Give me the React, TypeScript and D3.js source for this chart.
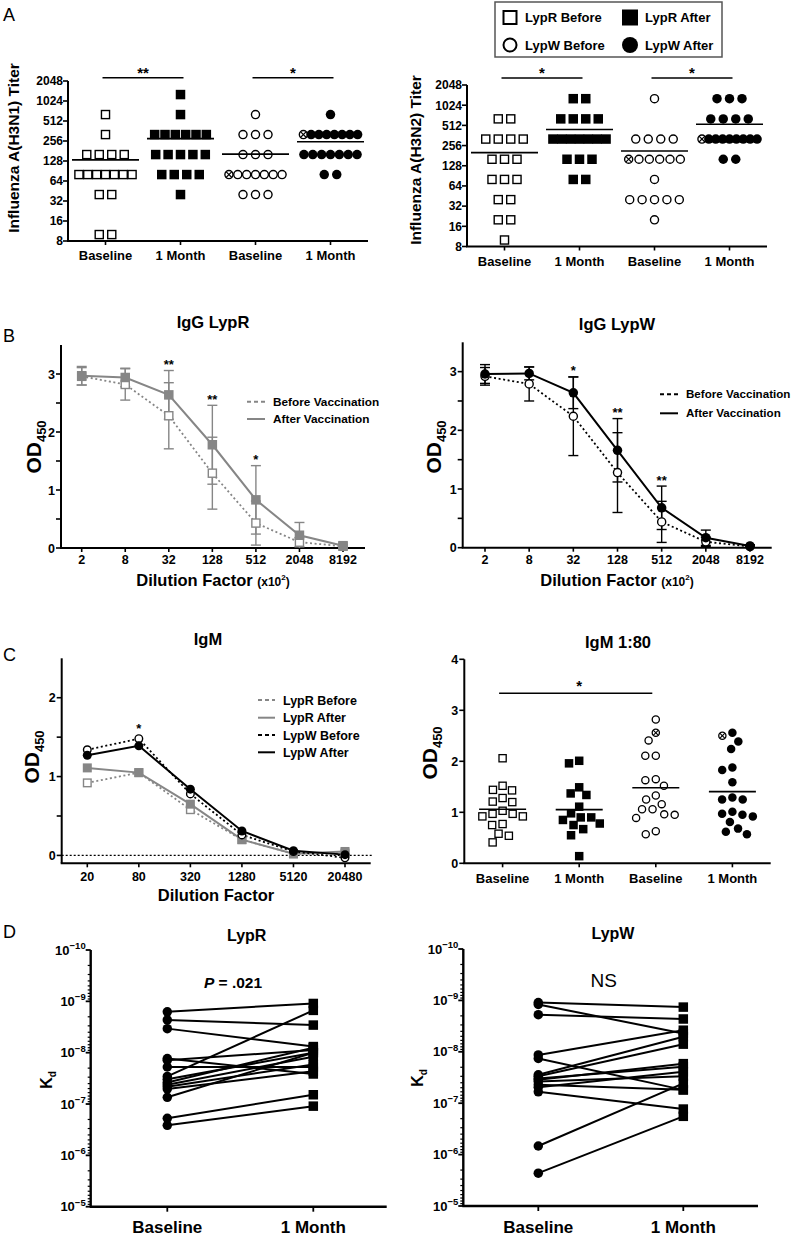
import React from 'react';
import * as d3 from 'd3';

const FONT = '"Liberation Sans", Arial, Helvetica, sans-serif';
const GRAY = '#868686';

// ---------------- Panel A data ----------------
const titerGroups = ['Baseline', '1 Month', 'Baseline', '1 Month'];
const titerTicks = [8, 16, 32, 64, 128, 256, 512, 1024, 2048];
const legendALabels = ['LypR Before', 'LypR After', 'LypW Before', 'LypW After'];
const h3n1LypRBefore = [640, 320, 160, 160, 160, 160, 80, 80, 80, 80, 80, 80, 80, 40, 40, 10, 10];
const h3n1LypRAfter = [1280, 640, 320, 320, 320, 320, 320, 320, 160, 160, 160, 160, 160, 80, 80, 80, 80, 40];
const h3n1LypWBefore = [640, 320, 320, 320, 160, 160, 160, 80, 80, 80, 80, 80, 80, 80, 40, 40, 40];
const h3n1LypWAfter = [640, 320, 320, 320, 320, 320, 320, 320, 320, 160, 160, 160, 160, 160, 160, 160, 80, 80];
const h3n1Crossed = [null, null, 80, 320];
const h3n1Sig = ['**', '*'];
const h3n2LypRBefore = [640, 640, 320, 320, 320, 320, 160, 160, 160, 80, 80, 80, 40, 40, 20, 20, 10];
const h3n2LypRAfter = [1280, 1280, 640, 640, 640, 640, 320, 320, 320, 320, 320, 320, 320, 160, 160, 160, 80, 80];
const h3n2LypWBefore = [1280, 320, 320, 320, 320, 160, 160, 160, 160, 160, 160, 80, 40, 40, 40, 40, 40, 20];
const h3n2LypWAfter = [1280, 1280, 1280, 640, 640, 640, 640, 320, 320, 320, 320, 320, 320, 320, 320, 320, 160, 160];
const h3n2Crossed = [null, null, 160, 320];
const h3n2Sig = ['*', '*'];

// ---------------- Panel B data ----------------
const igGDilutions = ['2', '8', '32', '128', '512', '2048', '8192'];
const lypRIgGBefore = [2.96, 2.82, 2.28, 1.29, 0.43, 0.1, 0.03];
const lypRIgGBeforeErr = [0.15, 0.27, 0.57, 0.62, 0.38, 0.08, 0.02];
const lypRIgGAfter = [2.97, 2.94, 2.64, 1.78, 0.83, 0.22, 0.04];
const lypRIgGAfterErr = [0.16, 0.16, 0.42, 0.68, 0.59, 0.22, 0.02];
const lypRIgGStars = ['', '', '**', '**', '*', '', ''];
const lypWIgGBefore = [2.92, 2.79, 2.24, 1.28, 0.44, 0.1, 0.02];
const lypWIgGBeforeErr = [0.15, 0.29, 0.67, 0.68, 0.35, 0.08, 0.02];
const lypWIgGAfter = [2.96, 2.97, 2.64, 1.66, 0.68, 0.17, 0.03];
const lypWIgGAfterErr = [0.16, 0.11, 0.27, 0.54, 0.37, 0.13, 0.02];
const lypWIgGStars = ['', '', '*', '**', '**', '', ''];

// ---------------- Panel C data ----------------
const igMDilutions = ['20', '80', '320', '1280', '5120', '20480'];
const igmLypRBefore = [0.92, 1.05, 0.58, 0.2, 0.02, 0.03];
const igmLypRAfter = [1.11, 1.05, 0.65, 0.2, 0.02, 0.05];
const igmLypWBefore = [1.34, 1.48, 0.78, 0.26, 0.05, -0.03];
const igmLypWAfter = [1.27, 1.39, 0.84, 0.31, 0.06, 0.01];
const igmStars = ['', '*', '', '', '', ''];
const igmLegend = ['LypR Before', 'LypR After', 'LypW Before', 'LypW After'];

const igm80LypRBaseline = [2.06, 1.52, 1.44, 1.43, 1.28, 1.21, 1.2, 1.03, 0.97, 0.97, 0.92, 0.92, 0.77, 0.75, 0.58, 0.54, 0.41];
const igm80LypRMonth = [2.01, 1.96, 1.49, 1.37, 1.34, 1.11, 0.98, 0.9, 0.9, 0.85, 0.78, 0.75, 0.67, 0.55, 0.14];
const igm80LypWBaseline = [2.82, 2.56, 2.41, 2.11, 2.11, 1.65, 1.63, 1.52, 1.33, 1.25, 1.16, 1.06, 1.06, 0.96, 0.95, 0.89, 0.63, 0.57];
const igm80LypWMonth = [2.56, 2.5, 2.39, 2.24, 1.88, 1.83, 1.59, 1.29, 1.25, 1.25, 1.01, 0.97, 0.95, 0.92, 0.81, 0.68, 0.62, 0.57];
const igm80Crossed = [null, null, 2.56, 2.5];
const igm80Ticks = [0, 1, 2, 3, 4];

// ---------------- Panel D data ----------------
const kdGroups = ['Baseline', '1 Month'];
const kdExponents = [-10, -9, -8, -7, -6, -5];
const lypRKdBaseline = [1.6e-9, 2.3e-9, 3.4e-9, 1.3e-8, 1.4e-8, 1.9e-8, 2.9e-8, 3.3e-8, 3.8e-8, 4.2e-8, 4.6e-8, 5.1e-8, 7.4e-8, 1.9e-7, 2.6e-7];
const lypRKdMonth = [1.1e-9, 2.9e-9, 7.6e-9, 2.6e-8, 8.9e-9, 1.9e-8, 1.5e-9, 1.0e-8, 8.0e-9, 1.2e-8, 1.7e-8, 2.3e-8, 1.0e-8, 6.6e-8, 1.1e-7];
const lypWKdBaseline = [1.1e-9, 1.2e-9, 1.9e-9, 1.15e-8, 1.35e-8, 2.8e-8, 3.0e-8, 3.3e-8, 3.5e-8, 3.8e-8, 4.4e-8, 4.9e-8, 6.0e-8, 6.8e-7, 2.3e-6];
const lypWKdMonth = [1.35e-9, 4.4e-9, 2.3e-9, 3.8e-9, 5.5e-8, 5.1e-9, 7.1e-9, 1.95e-8, 1.7e-8, 3.0e-8, 5.5e-8, 2.45e-8, 1.3e-7, 4.1e-8, 1.8e-7];

type Shape = 'square' | 'circle';

function Mark({ shape, filled, crossed, x, y, s, color = '#000', sw = 1.4 }:
  { shape: Shape; filled: boolean; crossed?: boolean; x: number; y: number; s: number; color?: string; sw?: number }) {
  if (crossed) {
    const r = s / 2 - sw / 2;
    const k = r * 0.72;
    return (
      <g>
        <circle cx={x} cy={y} r={r} fill="#fff" stroke={color} strokeWidth={sw} />
        <line x1={x - k} y1={y - k} x2={x + k} y2={y + k} stroke={color} strokeWidth={sw * 0.85} />
        <line x1={x - k} y1={y + k} x2={x + k} y2={y - k} stroke={color} strokeWidth={sw * 0.85} />
      </g>
    );
  }
  if (shape === 'square') {
    return filled
      ? <rect x={x - s / 2} y={y - s / 2} width={s} height={s} fill={color} />
      : <rect x={x - s / 2 + sw / 2} y={y - s / 2 + sw / 2} width={s - sw} height={s - sw} fill="#fff" stroke={color} strokeWidth={sw} />;
  }
  return filled
    ? <circle cx={x} cy={y} r={s / 2} fill={color} />
    : <circle cx={x} cy={y} r={s / 2 - sw / 2} fill="#fff" stroke={color} strokeWidth={sw} />;
}

function ODLabel({ x, y, size = 21 }: { x: number; y: number; size?: number }) {
  return (
    <text transform={`translate(${x},${y}) rotate(-90)`} textAnchor="middle" fontFamily={FONT} fontWeight="bold" fontSize={size}>
      OD<tspan fontSize={size * 0.62} dy={5}>450</tspan>
    </text>
  );
}

const aShapes: Shape[] = ['square', 'square', 'circle', 'circle'];
const aFilled = [false, true, false, true];

function titerLayout(values: number[], crossedVal: number | null) {
  const out: { v: number; dx: number; crossed: boolean }[] = [];
  const groups = d3.groups(values, (v) => v);
  for (const [v, items] of groups) {
    const n = items.length;
    const sp = Math.min(12.5, 62 / n);
    items.forEach((_, j) => {
      out.push({ v, dx: (j - (n - 1) / 2) * sp, crossed: crossedVal === v && j === 0 });
    });
  }
  return out;
}

function TiterPanel({ cols, crossed, sig, x0, x1, yTop, yBot, yLabel, yLabelX, yLabelY, xLabelY, sigY }:
  { cols: number[][]; crossed: (number | null)[]; sig: string[]; x0: number; x1: number; yTop: number; yBot: number;
    yLabel: string; yLabelX: number; yLabelY: number; xLabelY: number; sigY: number }) {
  const y = d3.scaleLog().base(2).domain([8, 2048]).range([yBot, yTop]);
  const x = d3.scaleBand<number>().domain(d3.range(4)).range([x0, x1]);
  const cx = (i: number) => (x(i) as number) + x.bandwidth() / 2;
  const pairs = [[0, 1], [2, 3]];
  return (
    <g fontFamily={FONT} fontWeight="bold">
      <line x1={x0} x2={x0} y1={yBot} y2={yTop} stroke="#000" strokeWidth={2} />
      <line x1={x0 - 1} x2={x1} y1={yBot} y2={yBot} stroke="#000" strokeWidth={2} />
      {titerTicks.map((t) => (
        <g key={t}>
          <line x1={x0 - 5} x2={x0} y1={y(t)} y2={y(t)} stroke="#000" strokeWidth={1.6} />
          <text x={x0 - 5} y={y(t)} dy="0.36em" textAnchor="end" fontSize={12}>{t}</text>
        </g>
      ))}
      {titerGroups.map((g, i) => (
        <g key={i}>
          <line x1={cx(i)} x2={cx(i)} y1={yBot} y2={yBot + 4} stroke="#000" strokeWidth={1.6} />
          <text x={cx(i)} y={xLabelY} textAnchor="middle" fontSize={13}>{g}</text>
        </g>
      ))}
      <text transform={`translate(${yLabelX},${yLabelY}) rotate(-90)`} textAnchor="middle" fontSize={15.5}>{yLabel}</text>
      {cols.map((vals, i) => {
        const lay = titerLayout(vals, crossed[i]);
        const m = d3.mean(vals) as number;
        return (
          <g key={i}>
            {lay.map((p, j) => (
              <Mark key={j} shape={aShapes[i]} filled={aFilled[i]} crossed={p.crossed} x={cx(i) + p.dx} y={y(p.v)} s={9.5} />
            ))}
            <line x1={cx(i) - 33.5} x2={cx(i) + 33.5} y1={y(m)} y2={y(m)} stroke="#000" strokeWidth={1.6} />
          </g>
        );
      })}
      {pairs.map(([a, b], k) => (
        <g key={k}>
          <line x1={cx(a) - 3} x2={cx(b) + 3} y1={sigY} y2={sigY} stroke="#000" strokeWidth={1.6} />
          <text x={(cx(a) + cx(b)) / 2} y={sigY} textAnchor="middle" fontSize={15}>{sig[k]}</text>
        </g>
      ))}
    </g>
  );
}

function LegendA() {
  const items = [
    { x: 510, tx: 525, y: 17.5, shape: 'square' as Shape, filled: false },
    { x: 630, tx: 645, y: 17.5, shape: 'square' as Shape, filled: true },
    { x: 510, tx: 525, y: 45, shape: 'circle' as Shape, filled: false },
    { x: 630, tx: 645, y: 45, shape: 'circle' as Shape, filled: true },
  ];
  return (
    <g fontFamily={FONT} fontWeight="bold">
      <rect x={495} y={2} width={227} height={55} fill="#fff" stroke="#555" strokeWidth={1.5} />
      {items.map((it, i) => (
        <g key={i}>
          <Mark shape={it.shape} filled={it.filled} x={it.x} y={it.y} s={it.filled ? 16 : 15} sw={2} />
          <text x={it.tx} y={it.y} dy="0.36em" fontSize={13}>{legendALabels[i]}</text>
        </g>
      ))}
    </g>
  );
}

interface Series { values: number[]; err?: number[]; shape: Shape; filled: boolean; color: string; dashed: boolean; label?: string }

function LinePanel(p: {
  dils: string[]; series: Series[]; stars: string[]; axX: number; axRight: number; xFirst: number; xLast: number;
  yMin: number; yMax: number; yBottom: number; yTopPx: number; yTicks: number[]; zeroLine?: boolean;
  title: string; titleX: number; titleY: number; odX: number; odY: number; tickLabelY: number;
  xTitle: React.ReactNode; xTitleX: number; xTitleY: number;
  legendX1: number; legendX2: number; legendTextX: number; legendYs: number[]; legendSize: number; markSize: number;
}) {
  const x = d3.scalePoint<string>().domain(p.dils).range([p.xFirst, p.xLast]);
  const y = d3.scaleLinear().domain([p.yMin, p.yMax]).range([p.yBottom, p.yTopPx]);
  const line = d3.line<number>().x((_, i) => x(p.dils[i]) as number).y((d) => y(d));
  const legendSeries = p.series.filter((s) => s.label);
  return (
    <g fontFamily={FONT} fontWeight="bold">
      <line x1={p.axX} x2={p.axX} y1={p.yBottom} y2={p.yTopPx} stroke="#000" strokeWidth={2} />
      <line x1={p.axX - 1} x2={p.axRight} y1={p.yBottom} y2={p.yBottom} stroke="#000" strokeWidth={2} />
      {p.yTicks.map((t) => (
        <g key={t}>
          <line x1={p.axX - 5} x2={p.axX} y1={y(t)} y2={y(t)} stroke="#000" strokeWidth={1.6} />
          {Number.isInteger(t) && <text x={p.axX - 6} y={y(t)} dy="0.36em" textAnchor="end" fontSize={12.5}>{t}</text>}
        </g>
      ))}
      {p.zeroLine && (
        <line x1={p.axX} x2={p.axRight + 1} y1={y(0)} y2={y(0)} stroke="#000" strokeWidth={1.3} strokeDasharray="2,2" />
      )}
      {p.dils.map((d) => (
        <g key={d}>
          <line x1={x(d)} x2={x(d)} y1={p.yBottom} y2={p.yBottom + 4} stroke="#000" strokeWidth={1.6} />
          <text x={x(d)} y={p.tickLabelY} textAnchor="middle" fontSize={12.5}>{d}</text>
        </g>
      ))}
      <text x={p.titleX} y={p.titleY} textAnchor="middle" fontSize={16.5}>{p.title}</text>
      <ODLabel x={p.odX} y={p.odY} />
      <text x={p.xTitleX} y={p.xTitleY} textAnchor="middle" fontSize={16.5}>{p.xTitle}</text>
      {p.series.map((s, k) => (
        <g key={k}>
          <path d={line(s.values) as string} fill="none" stroke={s.color} strokeWidth={s.dashed ? 1.8 : 2}
            strokeDasharray={s.dashed ? '2,2.6' : undefined} />
          {s.err && s.values.map((v, i) => {
            const xi = x(p.dils[i]) as number;
            const e = s.err![i];
            const lo = Math.max(v - e, p.yMin);
            return (
              <g key={i} stroke={s.color} strokeWidth={1.4}>
                <line x1={xi} x2={xi} y1={y(lo)} y2={y(v + e)} />
                <line x1={xi - 5} x2={xi + 5} y1={y(v + e)} y2={y(v + e)} />
                {v - e > p.yMin && <line x1={xi - 5} x2={xi + 5} y1={y(v - e)} y2={y(v - e)} />}
              </g>
            );
          })}
        </g>
      ))}
      {p.series.map((s, k) => (
        <g key={k}>
          {s.values.map((v, i) => (
            <Mark key={i} shape={s.shape} filled={s.filled} x={x(p.dils[i]) as number} y={y(v)} s={p.markSize} color={s.color} sw={1.4} />
          ))}
        </g>
      ))}
      {p.stars.map((st, i) => {
        if (!st) return null;
        const top = d3.min(p.series, (s) => Math.min(y(s.values[i] + (s.err ? s.err[i] : 0)), y(s.values[i]) - p.markSize / 2)) as number;
        return <text key={i} x={x(p.dils[i])} y={top - 1.5} textAnchor="middle" fontSize={13}>{st}</text>;
      })}
      {legendSeries.map((s, i) => (
        <g key={i}>
          <line x1={p.legendX1} x2={p.legendX2} y1={p.legendYs[i]} y2={p.legendYs[i]} stroke={s.color} strokeWidth={2}
            strokeDasharray={s.dashed ? '4,3' : undefined} />
          <text x={p.legendTextX} y={p.legendYs[i]} dy="0.36em" fontSize={p.legendSize}>{s.label}</text>
        </g>
      ))}
    </g>
  );
}

function beeswarm(ys: number[], d: number): number[] {
  const order = d3.range(ys.length).sort((a, b) => ys[a] - ys[b]);
  const placed: { x: number; y: number }[] = [];
  const out = new Array(ys.length).fill(0);
  for (const i of order) {
    const yi = ys[i];
    const iv: [number, number][] = [];
    for (const q of placed) {
      const dy = Math.abs(q.y - yi);
      if (dy < d) {
        const w = Math.sqrt(d * d - dy * dy);
        iv.push([q.x - w, q.x + w]);
      }
    }
    const cands = [0];
    iv.forEach(([a, b]) => cands.push(a, b));
    cands.sort((a, b) => Math.abs(a) - Math.abs(b));
    let best = 0;
    for (const c of cands) {
      if (iv.every(([a, b]) => c <= a + 1e-6 || c >= b - 1e-6)) { best = c; break; }
    }
    out[i] = best;
    placed.push({ x: best, y: yi });
  }
  return out;
}

function IgM80Panel() {
  const cols = [igm80LypRBaseline, igm80LypRMonth, igm80LypWBaseline, igm80LypWMonth];
  const x0 = 464.3, x1 = 770.7, yB = 863.3, yT = 659.3;
  const y = d3.scaleLinear().domain([0, 4]).range([yB, yT]);
  const x = d3.scaleBand<number>().domain(d3.range(4)).range([x0, x1]);
  const cx = (i: number) => (x(i) as number) + x.bandwidth() / 2;
  const sigY = 693.3;
  return (
    <g fontFamily={FONT} fontWeight="bold">
      <line x1={x0} x2={x0} y1={yB} y2={yT} stroke="#000" strokeWidth={2} />
      <line x1={x0 - 1} x2={x1} y1={yB} y2={yB} stroke="#000" strokeWidth={2} />
      {igm80Ticks.map((t) => (
        <g key={t}>
          <line x1={x0 - 5} x2={x0} y1={y(t)} y2={y(t)} stroke="#000" strokeWidth={1.6} />
          <text x={x0 - 6} y={y(t)} dy="0.36em" textAnchor="end" fontSize={12.5}>{t}</text>
        </g>
      ))}
      {titerGroups.map((g, i) => (
        <g key={i}>
          <line x1={cx(i)} x2={cx(i)} y1={yB} y2={yB + 4} stroke="#000" strokeWidth={1.6} />
          <text x={cx(i)} y={883} textAnchor="middle" fontSize={13}>{g}</text>
        </g>
      ))}
      <text x={618} y={648} textAnchor="middle" fontSize={16.5}>IgM 1:80</text>
      <ODLabel x={437} y={753} />
      {cols.map((vals, i) => {
        const ys = vals.map((v) => y(v));
        const dx = beeswarm(ys, 10.5);
        const m = d3.mean(vals) as number;
        let used = false;
        return (
          <g key={i}>
            {vals.map((v, j) => {
              const c = !used && igm80Crossed[i] === v;
              if (c) used = true;
              return <Mark key={j} shape={aShapes[i]} filled={aFilled[i] && !c} crossed={c} x={cx(i) + dx[j]} y={ys[j]} s={8.5} sw={1.3} />;
            })}
            <line x1={cx(i) - 23.5} x2={cx(i) + 23.5} y1={y(m)} y2={y(m)} stroke="#000" strokeWidth={1.6} />
          </g>
        );
      })}
      <line x1={cx(0) - 3.5} x2={cx(2) - 3.5} y1={sigY} y2={sigY} stroke="#000" strokeWidth={1.6} />
      <text x={(cx(0) + cx(2)) / 2} y={sigY - 2} textAnchor="middle" fontSize={15}>*</text>
    </g>
  );
}

function KdPanel({ base, month, x0, x1, yTop, yBot, xA, xB, title, titleX, titleY, kdX, kdY, note }:
  { base: number[]; month: number[]; x0: number; x1: number; yTop: number; yBot: number; xA: number; xB: number;
    title: string; titleX: number; titleY: number; kdX: number; kdY: number; note: React.ReactNode }) {
  const y = d3.scaleLog().domain([1e-10, 1e-5]).range([yTop, yBot]);
  const x = d3.scalePoint<string>().domain(kdGroups).range([xA, xB]);
  const minor: number[] = [];
  for (let e = -10; e < -5; e++) for (let m = 2; m <= 9; m++) minor.push(m * Math.pow(10, e));
  return (
    <g fontFamily={FONT} fontWeight="bold">
      <line x1={x0} x2={x0} y1={yBot} y2={yTop} stroke="#000" strokeWidth={2.4} />
      <line x1={x0 - 1} x2={x1} y1={yBot} y2={yBot} stroke="#000" strokeWidth={2.4} />
      {minor.map((t, i) => (
        <line key={i} x1={x0 - 3} x2={x0} y1={y(t)} y2={y(t)} stroke="#000" strokeWidth={1.2} />
      ))}
      {kdExponents.map((e) => (
        <g key={e}>
          <line x1={x0 - 5} x2={x0} y1={y(Math.pow(10, e))} y2={y(Math.pow(10, e))} stroke="#000" strokeWidth={1.8} />
          <text x={x0 - 5} y={y(Math.pow(10, e)) + 4.5} textAnchor="end" fontSize={13}>
            10<tspan fontSize={9.5} dy={-5.5}>{'\u2212' + Math.abs(e)}</tspan>
          </text>
        </g>
      ))}
      {kdGroups.map((g) => (
        <g key={g}>
          <line x1={x(g)} x2={x(g)} y1={yBot} y2={yBot + 5} stroke="#000" strokeWidth={1.8} />
          <text x={x(g)} y={1233} textAnchor="middle" fontSize={17}>{g}</text>
        </g>
      ))}
      <text x={titleX} y={titleY} textAnchor="middle" fontSize={16}>{title}</text>
      <text transform={`translate(${kdX},${kdY}) rotate(-90)`} textAnchor="middle" fontSize={16}>
        K<tspan fontSize={10} dy={4}>d</tspan>
      </text>
      {note}
      {base.map((b, i) => (
        <line key={i} x1={x('Baseline')} x2={x('1 Month')} y1={y(b)} y2={y(month[i])} stroke="#000" strokeWidth={2} />
      ))}
      {base.map((b, i) => (
        <Mark key={'b' + i} shape="circle" filled x={x('Baseline') as number} y={y(b)} s={9.5} />
      ))}
      {month.map((m, i) => (
        <Mark key={'m' + i} shape="square" filled x={x('1 Month') as number} y={y(m)} s={9.5} />
      ))}
    </g>
  );
}

function PanelLetter({ x, y, t }: { x: number; y: number; t: string }) {
  return <text x={x} y={y} fontFamily={FONT} fontSize={18} fontWeight="normal">{t}</text>;
}

export default function App() {
  const dilTitle = (
    <>
      Dilution Factor <tspan fontSize={12}>(x10</tspan><tspan fontSize={8} dy={-6}>2</tspan><tspan fontSize={12} dy={6}>)</tspan>
    </>
  );
  return (
    <svg width={796} height={1236} style={{ position: 'absolute', left: 0, top: 0, background: '#fff' }}>
      <rect width={796} height={1236} fill="#fff" />
      <PanelLetter x={3} y={21} t="A" />
      <PanelLetter x={3} y={342} t="B" />
      <PanelLetter x={3} y={661} t="C" />
      <PanelLetter x={3} y={938} t="D" />

      <TiterPanel cols={[h3n1LypRBefore, h3n1LypRAfter, h3n1LypWBefore, h3n1LypWAfter]} crossed={h3n1Crossed} sig={h3n1Sig}
        x0={68} x1={368} yTop={81} yBot={241} yLabel="Influenza A(H3N1) Titer" yLabelX={19} yLabelY={148}
        xLabelY={259.5} sigY={77.7} />
      <TiterPanel cols={[h3n2LypRBefore, h3n2LypRAfter, h3n2LypWBefore, h3n2LypWAfter]} crossed={h3n2Crossed} sig={h3n2Sig}
        x0={467} x1={767} yTop={85} yBot={246.5} yLabel="Influenza A(H3N2) Titer" yLabelX={421} yLabelY={160}
        xLabelY={265.5} sigY={78} />
      <LegendA />

      <LinePanel dils={igGDilutions}
        series={[
          { values: lypRIgGBefore, err: lypRIgGBeforeErr, shape: 'square', filled: false, color: GRAY, dashed: true, label: 'Before Vaccination' },
          { values: lypRIgGAfter, err: lypRIgGAfterErr, shape: 'square', filled: true, color: GRAY, dashed: false, label: 'After Vaccination' },
        ]}
        stars={lypRIgGStars} axX={61} axRight={365} xFirst={81.7} xLast={343} yMin={0} yMax={3.5} yBottom={548} yTopPx={345}
        yTicks={[0, 0.5, 1, 1.5, 2, 2.5, 3]} title="IgG LypR" titleX={213} titleY={328} odX={41} odY={447}
        tickLabelY={564} xTitle={dilTitle} xTitleX={213} xTitleY={586}
        legendX1={247} legendX2={265} legendTextX={273} legendYs={[401.7, 419]} legendSize={11.8} markSize={9.5} />
      <LinePanel dils={igGDilutions}
        series={[
          { values: lypWIgGBefore, err: lypWIgGBeforeErr, shape: 'circle', filled: false, color: '#000', dashed: true, label: 'Before Vaccination' },
          { values: lypWIgGAfter, err: lypWIgGAfterErr, shape: 'circle', filled: true, color: '#000', dashed: false, label: 'After Vaccination' },
        ]}
        stars={lypWIgGStars} axX={462.7} axRight={771.7} xFirst={485} xLast={750} yMin={0} yMax={3.5} yBottom={547.7} yTopPx={342.3}
        yTicks={[0, 0.5, 1, 1.5, 2, 2.5, 3]} title="IgG LypW" titleX={617} titleY={330} odX={441} odY={447}
        tickLabelY={564} xTitle={dilTitle} xTitleX={617} xTitleY={586}
        legendX1={660} legendX2={678} legendTextX={686} legendYs={[394.3, 413.3]} legendSize={11.6} markSize={9.5} />

      <LinePanel dils={igMDilutions}
        series={[
          { values: igmLypRBefore, shape: 'square', filled: false, color: GRAY, dashed: true, label: igmLegend[0] },
          { values: igmLypRAfter, shape: 'square', filled: true, color: GRAY, dashed: false, label: igmLegend[1] },
          { values: igmLypWBefore, shape: 'circle', filled: false, color: '#000', dashed: true, label: igmLegend[2] },
          { values: igmLypWAfter, shape: 'circle', filled: true, color: '#000', dashed: false, label: igmLegend[3] },
        ]}
        stars={igmStars} axX={61.7} axRight={370.7} xFirst={87.3} xLast={345} yMin={-0.1} yMax={2.5} yBottom={863.3} yTopPx={658.3}
        yTicks={[0, 0.5, 1, 1.5, 2]} zeroLine title="IgM" titleX={208} titleY={645} odX={38.5} odY={757}
        tickLabelY={880.7} xTitle="Dilution Factor" xTitleX={216} xTitleY={901}
        legendX1={258} legendX2={275} legendTextX={283} legendYs={[700, 717.7, 735, 752.3]} legendSize={12.5} markSize={9} />
      <IgM80Panel />

      <KdPanel base={lypRKdBaseline} month={lypRKdMonth} x0={90.7} x1={386.7} yTop={950} yBot={1206.7} xA={167.3} xB={313.3}
        title="LypR" titleX={246.7} titleY={941} kdX={52} kdY={1080}
        note={<text x={233} y={988} textAnchor="middle" fontSize={15.5} fontFamily={FONT} fontWeight="bold">
          <tspan fontStyle="italic">P</tspan> = .021</text>} />
      <KdPanel base={lypWKdBaseline} month={lypWKdMonth} x0={463.3} x1={758} yTop={949} yBot={1206} xA={538.3} xB={683.3}
        title="LypW" titleX={613} titleY={939} kdX={423} kdY={1078}
        note={<text x={603.7} y={986.7} textAnchor="middle" fontSize={19} fontFamily={FONT} fontWeight="normal">NS</text>} />
    </svg>
  );
}
